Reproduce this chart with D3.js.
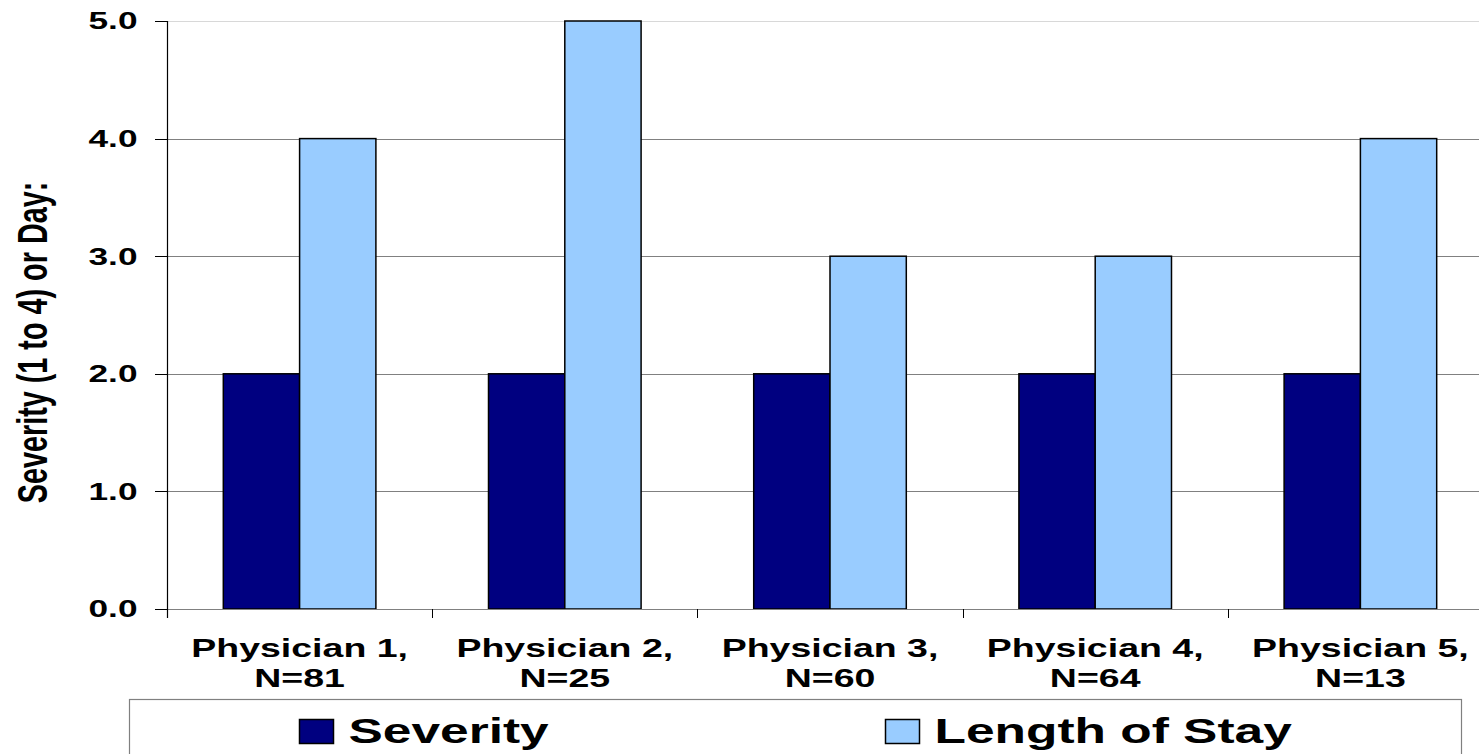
<!DOCTYPE html>
<html><head><meta charset="utf-8">
<script src="https://cdn.jsdelivr.net/npm/d3@7"></script>
<style>html,body{margin:0;padding:0;background:#fff;overflow:hidden}svg{display:block}</style>
</head><body>
<script>
const categories = ["Physician 1,|N=81","Physician 2,|N=25","Physician 3,|N=60","Physician 4,|N=64","Physician 5,|N=13"];
const seriesNames = ["Severity","Length of Stay"];
const severity = [2,2,2,2,2];
const lengthOfStay = [4,5,3,3,4];
const yTicks = [0,1,2,3,4,5];
const yTitle = "Severity (1 to 4) or Day:";
const colors = ["#000080","#99CCFF"];

const W = 1479, H = 754;
const svg = d3.select("body").append("svg").attr("width",W).attr("height",H);
const font = "'Liberation Sans', Arial, sans-serif";

const x = d3.scaleBand().domain(categories).range([167,1493]).paddingInner(0).paddingOuter(0);
const xs = d3.scaleBand().domain(seriesNames).range([0,x.bandwidth()]).paddingInner(0).paddingOuter(0.738);
const y = d3.scaleLinear().domain([0,5]).range([609,21]);

// gridlines
svg.append("g").selectAll("line").data(yTicks.filter(d=>d>0)).join("line")
  .attr("x1",167).attr("x2",W).attr("y1",d=>Math.round(y(d))+0.5).attr("y2",d=>Math.round(y(d))+0.5)
  .attr("stroke",d=>d===5?"#d8d8d8":"#808080").attr("stroke-width",1);

// bars
const data = categories.map((c,i)=>({c, vals:[severity[i], lengthOfStay[i]]}));
const g = svg.append("g");
data.forEach(d=>{
  seriesNames.forEach((s,j)=>{
    g.append("rect")
      .attr("x", x(d.c)+xs(s)).attr("width", xs.bandwidth())
      .attr("y", y(d.vals[j])).attr("height", y(0)-y(d.vals[j]))
      .attr("fill", colors[j]).attr("stroke","#000").attr("stroke-width",1.5);
  });
});

// x axis
const xa = svg.append("g");
xa.append("line").attr("x1",167).attr("x2",W).attr("y1",609.5).attr("y2",609.5).attr("stroke","#808080").attr("stroke-width",1.2);
const bounds = categories.map(c=>x(c)).concat([x.range()[1]]);
xa.selectAll("line.t").data(bounds).join("line").attr("class","t")
  .attr("x1",d=>Math.round(d)+0.5).attr("x2",d=>Math.round(d)+0.5).attr("y1",609).attr("y2",618)
  .attr("stroke","#000").attr("stroke-width",1);
categories.forEach(c=>{
  const cx = x(c)+x.bandwidth()/2;
  const lines = c.split("|");
  lines.forEach((t,k)=>{
    xa.append("text").attr("transform",`translate(${cx},${656.7+k*30.3}) scale(1.5,1)`)
      .attr("text-anchor","middle").attr("font-family",font).attr("font-weight","bold")
      .attr("font-size",25).attr("fill","#000").text(t);
  });
});

// y axis
const ya = svg.append("g");
ya.append("line").attr("x1",167.5).attr("x2",167.5).attr("y1",y(5)).attr("y2",618).attr("stroke","#000").attr("stroke-width",1.2);
ya.selectAll("line.t").data(yTicks).join("line").attr("class","t")
  .attr("x1",155).attr("x2",167).attr("y1",d=>Math.round(y(d))+0.5).attr("y2",d=>Math.round(y(d))+0.5)
  .attr("stroke","#000").attr("stroke-width",1);
ya.selectAll("text").data(yTicks).join("text")
  .attr("transform",d=>`translate(137.5,${y(d)+8.3}) scale(1.47,1)`)
  .attr("text-anchor","end").attr("font-family",font).attr("font-weight","bold")
  .attr("font-size",24).attr("fill","#000").text(d=>d3.format(".1f")(d));

svg.append("text").attr("transform",`translate(47,342.5) scale(1.5,1) rotate(-90)`)
  .attr("text-anchor","middle").attr("font-family",font).attr("font-weight","bold")
  .attr("font-size",28.8).attr("fill","#000").text(yTitle);

// legend
const lg = svg.append("g");
lg.append("rect").attr("x",129.5).attr("y",699.5).attr("width",1332).attr("height",80)
  .attr("fill","#fff").attr("stroke","#808080").attr("stroke-width",1.2);
const legX = [299, 885];
seriesNames.forEach((s,j)=>{
  lg.append("rect").attr("x",legX[j]+0.5).attr("y",719.5).attr("width",34).attr("height",24)
    .attr("fill",colors[j]).attr("stroke","#000").attr("stroke-width",1.5);
  lg.append("text").attr("transform",`translate(${legX[j]+49.5},742.8) scale(1.47,1)`)
    .attr("font-family",font).attr("font-weight","bold").attr("font-size",35).attr("fill","#000").text(s);
});
</script>
</body></html>
